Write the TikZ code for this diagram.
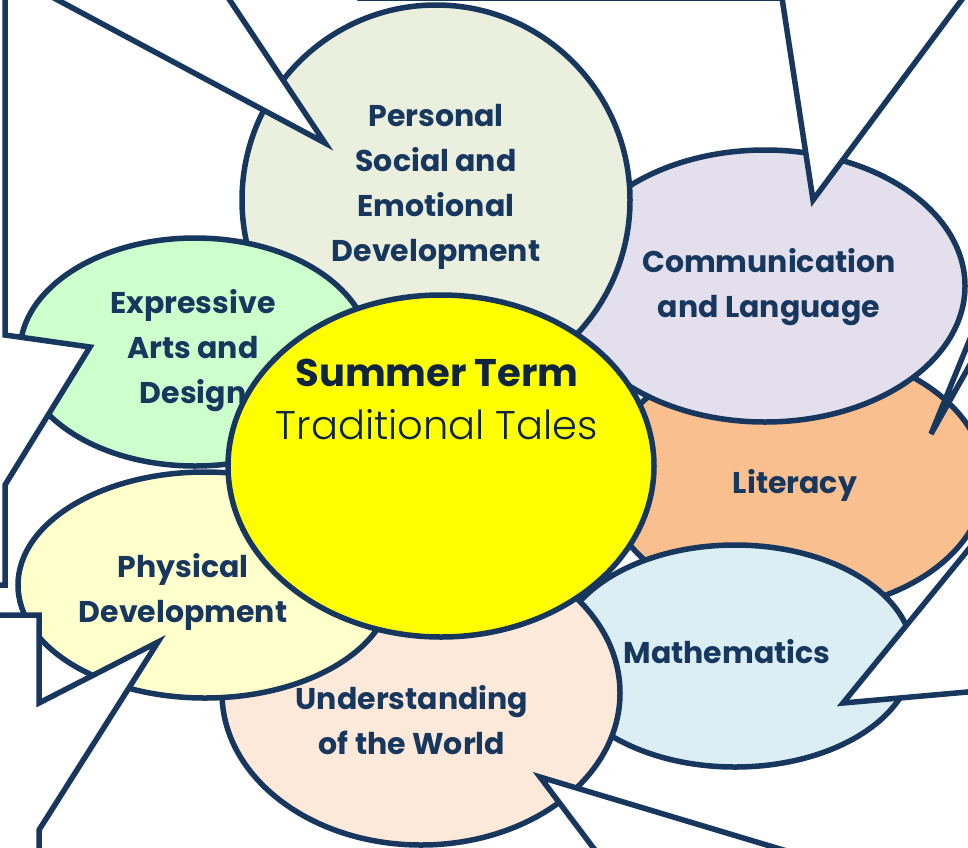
\documentclass[tikz,border=0pt]{standalone}
\usepackage{fontspec}
\setmainfont{Poppins}
\newfontfamily\thinfont{Poppins Light}
\usetikzlibrary{shapes.geometric}

\definecolor{navy}{RGB}{23,55,94}
\definecolor{deepnavy}{RGB}{15,36,62}
\definecolor{sun}{RGB}{255,255,0}
\definecolor{psedfill}{RGB}{234,239,222}
\definecolor{commfill}{RGB}{228,223,236}
\definecolor{litfill}{RGB}{249,191,143}
\definecolor{mathfill}{RGB}{219,238,244}
\definecolor{worldfill}{RGB}{253,233,217}
\definecolor{physfill}{RGB}{255,255,204}
\definecolor{artsfill}{RGB}{204,255,204}

\tikzset{
  bubble/.style={ellipse, draw=navy, line width=5.5pt, inner sep=0pt},
  area/.style={font=\bfseries\fontsize{30}{45}\selectfont, text=navy, align=center},
  callout/.style={draw=navy, fill=white, line width=5.5pt, line join=miter},
}

\begin{document}
\begin{tikzpicture}[x=1pt,y=-1pt]
    \useasboundingbox (0,0) rectangle (968,847);
    \clip (0,0) rectangle (968,847);
    %bubbles
    \node[bubble, fill=litfill, minimum width=380, minimum height=262] (lit) at (795,480) {};
    \node[bubble, fill=mathfill, minimum width=356, minimum height=222] (math) at (735,656) {};
    \node[bubble, fill=commfill, minimum width=400, minimum height=272] (comm) at (765,286) {};
    \node[bubble, fill=psedfill, minimum width=388, minimum height=390] (psed) at (436,200) {};
    \node[bubble, fill=artsfill, minimum width=350, minimum height=228] (arts) at (195,352) {};
    \node[bubble, fill=worldfill, minimum width=398, minimum height=304] (world) at (421,693) {};
    \node[bubble, fill=physfill, minimum width=374, minimum height=226] (phys) at (205,585) {};
    \node[bubble, fill=sun, minimum width=426, minimum height=342] (term) at (441,466) {};
    %labels
    \node[area] (psedtext) at (436,187) {Personal\\Social and\\Emotional\\Development};
    \node[area] (commtext) at (769,287) {Communication\\and Language};
    \node[area] (littext) at (795,485) {Literacy};
    \node[area] (mathtext) at (727,652) {Mathematics};
    \node[area] (worldtext) at (412,720) {Understanding\\of the World};
    \node[area] (phystext) at (183,592) {Physical\\Development};
    \node[area] (artstext) at (193,351) {Expressive\\Arts and\\Design};
    \node[font=\bfseries\fontsize{38.5}{46}\selectfont, text=deepnavy] (season) at (437,373) {Summer Term};
    \node[font=\thinfont\fontsize{40}{48}\selectfont, text=deepnavy] (topic) at (437,425) {Traditional Tales};
    %callouts
    \draw[callout] (39,-10) -- (325,143) -- (223,-10) -- cycle;
    \draw[callout] (360,-30) -- (360,-2) -- (782,-2) -- (813,200) -- (963,-2) -- (963,-30) -- cycle;
    \draw[callout] (990,290) -- (931,434) -- (990,329) -- cycle;
    \draw[callout] (990,523) -- (843,703) -- (990,690) -- cycle;
    \draw[callout] (610,870) -- (540,777) -- (850,870) -- cycle;
    \draw[callout] (-10,615) -- (39,615) -- (39,703) -- (158,642) -- (39,830) -- (39,870) -- (-10,870) -- cycle;
    \draw[callout] (-10,-10) -- (5,-10) -- (5,335) -- (90,347) -- (5,485) -- (5,585) -- (-10,585) -- cycle;
\end{tikzpicture}
\end{document}
